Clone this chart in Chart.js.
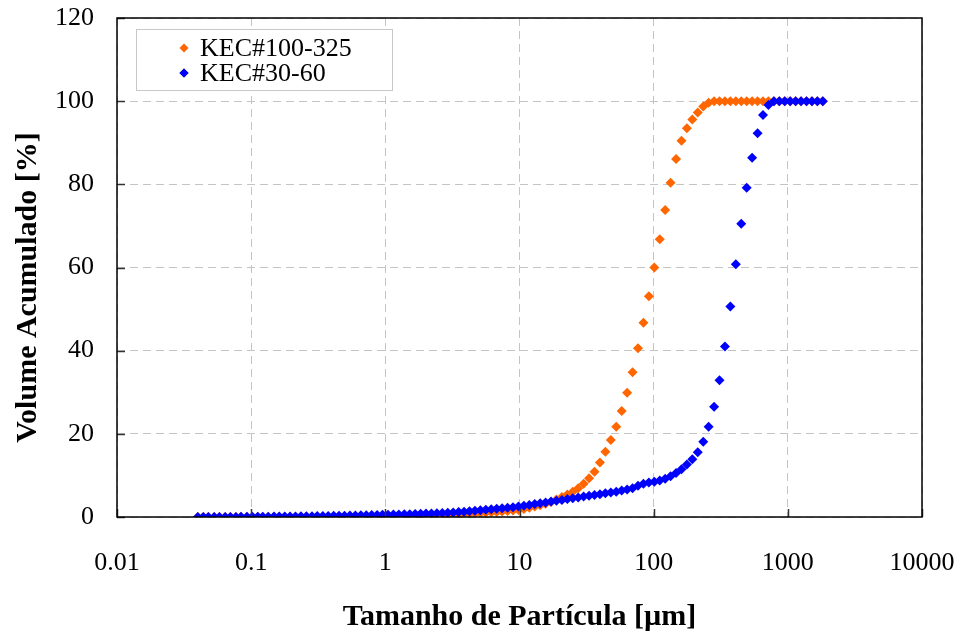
<!DOCTYPE html>
<html><head><meta charset="utf-8">
<script src="https://cdn.jsdelivr.net/npm/chart.js@4.4.0/dist/chart.umd.min.js"></script>
<style>html,body{margin:0;padding:0;background:#fff}#wrap{width:964px;height:632px}</style>
</head><body><div id="wrap"><canvas id="c" width="964" height="632"></canvas></div>
<script>
// particle size channels [µm]
const sizes = [
0.04,0.044,0.048,0.053,0.058,0.064,0.070,0.077,0.084,0.093,
0.102,0.112,0.122,0.134,0.148,0.162,0.178,0.195,0.214,0.235,
0.258,0.284,0.311,0.342,0.375,0.412,0.452,0.496,0.545,0.598,
0.657,0.721,0.791,0.869,0.953,1.047,1.149,1.261,1.385,1.520,
1.669,1.832,2.010,2.207,2.423,2.660,2.920,3.205,3.519,3.863,
4.240,4.655,5.110,5.610,6.158,6.760,7.421,8.147,8.943,9.817,
10.78,11.83,12.99,14.26,15.65,17.18,18.86,20.71,22.73,24.95,
27.39,30.07,33.01,36.24,39.78,43.67,47.94,52.62,57.77,63.41,
69.61,76.42,83.89,92.09,101.1,111.0,121.8,133.7,146.8,161.2,
176.9,194.2,213.2,234.1,256.9,282.1,309.6,339.9,373.1,409.6,
449.7,493.6,541.9,594.9,653.0,716.9,786.9,863.9,948.3,1041,
1143,1255,1377,1512,1660,1822];

const kec100_325 = [
0,0,0,0,0,0,0,0,0,0,
0,0,0,0,0,0,0,0,0,0,
0.01,0.01,0.02,0.02,0.03,0.03,0.04,0.05,0.06,0.07,
0.08,0.1,0.12,0.14,0.16,0.19,0.22,0.25,0.28,0.31,
0.35,0.39,0.43,0.47,0.51,0.55,0.6,0.65,0.7,0.76,
0.82,0.89,0.96,1.04,1.12,1.21,1.31,1.42,1.55,1.7,
1.95,2.2,2.5,2.8,3.2,3.6,4.2,4.8,5.4,6.1,
6.9,8.0,9.3,10.9,13.1,15.7,18.5,21.7,25.5,29.9,
34.8,40.6,46.7,53.1,60.0,66.8,73.8,80.4,86.1,90.5,
93.5,95.6,97.3,98.7,99.6,100,100,100,100,100,
100,100,100,100,100,100,100,100,100,100,
100,100,100,100,100,100];

const kec30_60 = [
0,0,0,0,0,0.01,0.02,0.03,0.04,0.05,
0.06,0.07,0.08,0.09,0.1,0.11,0.12,0.13,0.15,0.17,
0.19,0.21,0.23,0.25,0.27,0.29,0.31,0.33,0.35,0.37,
0.4,0.43,0.46,0.49,0.52,0.55,0.58,0.61,0.65,0.69,
0.73,0.77,0.82,0.87,0.92,0.97,1.03,1.1,1.18,1.27,
1.37,1.48,1.6,1.72,1.84,1.96,2.08,2.2,2.33,2.5,
2.7,2.9,3.1,3.3,3.5,3.7,3.9,4.1,4.3,4.5,
4.7,4.9,5.1,5.3,5.5,5.7,5.9,6.1,6.35,6.6,
6.9,7.5,8.0,8.3,8.5,8.8,9.2,9.8,10.6,11.5,
12.6,13.9,15.6,18.1,21.7,26.5,32.9,41.0,50.6,60.8,
70.5,79.2,86.4,92.3,96.7,99.1,100,100,100,100,
100,100,100,100,100,100];

const seriesNames = ['KEC#100-325', 'KEC#30-60'];
const seriesColors = ['#ff6600', '#0000ff'];
const xTickValues = [0.01, 0.1, 1, 10, 100, 1000, 10000];
const xTickLabels = ['0.01', '0.1', '1', '10', '100', '1000', '10000'];
const yTickValues = [0, 20, 40, 60, 80, 100, 120];
const xTitle = 'Tamanho de Partícula [µm]';
const yTitle = 'Volume Acumulado [%]';

const FONT = '"Liberation Serif", "Times New Roman", serif';

const toPoints = vals => sizes.map((s, i) => ({x: s, y: vals[i]}));

const framePlugin = {
  id: 'frame',
  afterDatasetsDraw(chart) {
    const {ctx, chartArea: a, scales: {x, y}} = chart;
    ctx.save();
    ctx.strokeStyle = '#333';
    ctx.lineWidth = 1.5;
    xTickValues.forEach(v => {
      const px = Math.round(x.getPixelForValue(v)) + 0.5;
      ctx.beginPath(); ctx.moveTo(px, a.bottom); ctx.lineTo(px, a.bottom - 8); ctx.stroke();
    });
    yTickValues.forEach(v => {
      const py = Math.round(y.getPixelForValue(v)) + 0.5;
      ctx.beginPath(); ctx.moveTo(a.left, py); ctx.lineTo(a.left + 8, py); ctx.stroke();
    });
    ctx.strokeStyle = '#000';
    ctx.lineWidth = 1.5;
    ctx.strokeRect(a.left, a.top, a.right - a.left, a.bottom - a.top);
    ctx.restore();
  },
  afterDraw(chart) {
    const {ctx} = chart;
    ctx.save();
    // legend box
    ctx.fillStyle = '#fff';
    ctx.fillRect(136.5, 29.5, 256, 61);
    ctx.strokeStyle = '#c8c8c8';
    ctx.lineWidth = 1;
    ctx.strokeRect(136.5, 29.5, 256, 61);
    const rows = [48, 73];
    ctx.font = '26px ' + FONT;
    ctx.textAlign = 'left';
    ctx.textBaseline = 'alphabetic';
    seriesNames.forEach((n, i) => {
      Chart.helpers.drawPoint(ctx, {pointStyle: 'rectRot', radius: 4.5, borderWidth: 0, rotation: 0}, 184, rows[i]);
      ctx.fillStyle = seriesColors[i];
      ctx.fill();
      ctx.fillStyle = '#000';
      ctx.fillText(n, 200, rows[i] + 8);
    });
    // y axis title
    ctx.translate(28, 287.5);
    ctx.rotate(-Math.PI / 2);
    ctx.font = 'bold 30px ' + FONT;
    ctx.textAlign = 'center';
    ctx.textBaseline = 'middle';
    ctx.fillStyle = '#000';
    ctx.fillText(yTitle, 0, 0);
    ctx.restore();
  }
};

new Chart(document.getElementById('c'), {
  type: 'scatter',
  data: {
    datasets: [
      {label: seriesNames[0], data: toPoints(kec100_325), backgroundColor: seriesColors[0], borderColor: seriesColors[0], order: 1},
      {label: seriesNames[1], data: toPoints(kec30_60), backgroundColor: seriesColors[1], borderColor: seriesColors[1], order: 0}
    ]
  },
  options: {
    responsive: false,
    animation: false,
    devicePixelRatio: 1,
    layout: {padding: {top: 18, right: 42, left: 0, bottom: 0}},
    elements: {point: {pointStyle: 'rectRot', radius: 5, borderWidth: 0, hoverRadius: 5}},
    plugins: {legend: {display: false}, tooltip: {enabled: false}},
    scales: {
      x: {
        type: 'logarithmic',
        min: 0.01, max: 10000,
        afterBuildTicks: s => { s.ticks = xTickValues.map(v => ({value: v})); },
        afterFit: s => { s.height = 115; s.paddingLeft = 0; s.paddingRight = 0; },
        ticks: {
          autoSkip: false, maxRotation: 0, padding: 31, color: '#000',
          font: {family: FONT, size: 26},
          callback: (v) => { const i = xTickValues.indexOf(v); return i >= 0 ? xTickLabels[i] : ''; }
        },
        grid: {color: '#c4c4c4', lineWidth: 1, drawTicks: false},
        border: {display: false, dash: [8, 5]},
        title: {display: true, text: xTitle, color: '#000', padding: {top: 0, bottom: 0}, font: {family: FONT, size: 30, weight: 'bold', lineHeight: 1.0}}
      },
      y: {
        min: 0, max: 120,
        afterBuildTicks: s => { s.ticks = yTickValues.map(v => ({value: v})); },
        afterFit: s => { s.width = 117; s.paddingTop = 0; s.paddingBottom = 0; },
        ticks: {padding: 23, color: '#000', font: {family: FONT, size: 26}},
        grid: {color: '#c4c4c4', lineWidth: 1, drawTicks: false},
        border: {display: false, dash: [8, 5]}
      }
    }
  },
  plugins: [framePlugin]
});
</script>
</body></html>
